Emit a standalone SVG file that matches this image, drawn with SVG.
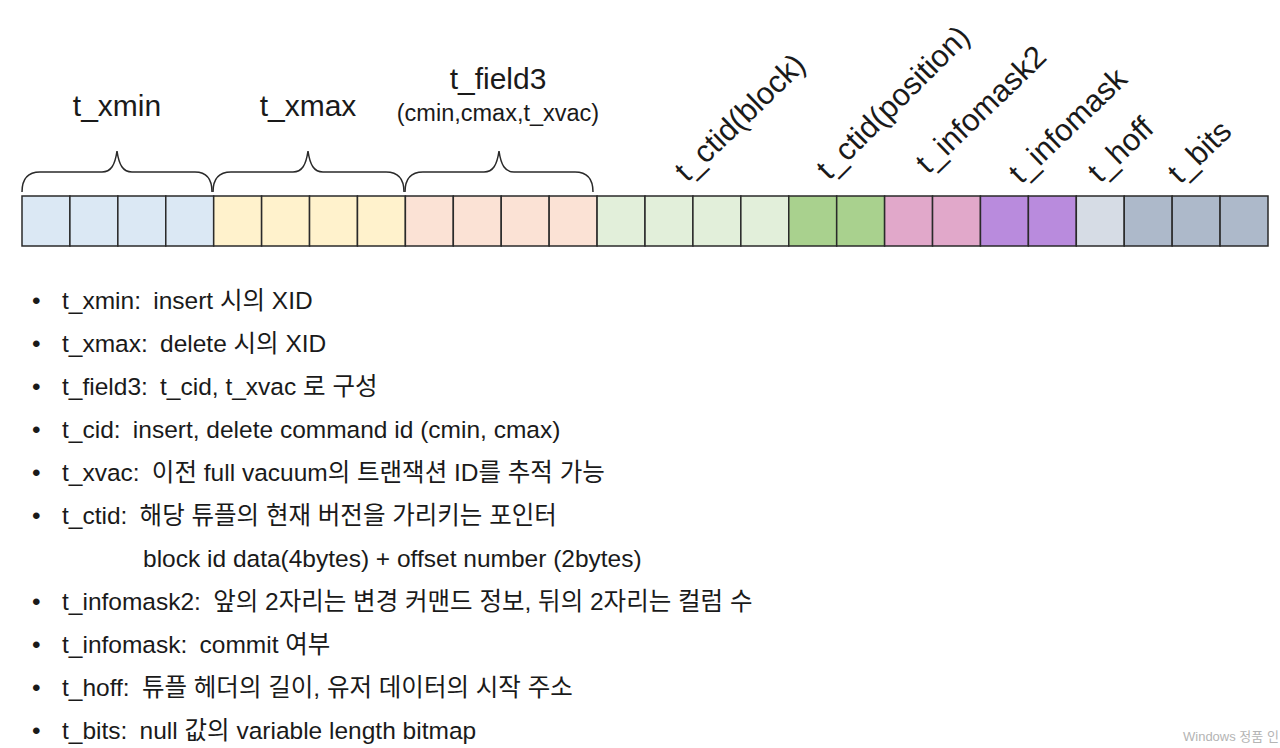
<svg xmlns="http://www.w3.org/2000/svg" width="1280" height="748" viewBox="0 0 1280 748">
<style>
text{font-family:"Liberation Sans","Noto Sans CJK KR",Arial,sans-serif;fill:#1a1a1a}
.lbl{font-size:30px}
.sub{font-size:23.5px}
.rot{font-size:31px}
.note{font-size:24.5px}
.cell{stroke:#2a2a2a;stroke-width:1.5}
.brace{fill:none;stroke:#2a2a2a;stroke-width:1.5}
.c1{fill:#dbe8f4}.c2{fill:#fff2cc}.c3{fill:#fbe2d5}.c4{fill:#e2efda}.c5{fill:#a9d18e}.c6{fill:#e1a8ca}.c7{fill:#b98bdd}.c8{fill:#d6dce5}.c9{fill:#adb9ca}
.wm{font-family:"Liberation Sans","Noto Sans CJK KR",sans-serif;font-size:13px;fill:#b4b4b4}
</style>
<rect width="1280" height="748" fill="#ffffff"/>
<g id="labels">
<text class="lbl" x="117" y="116" text-anchor="middle">t_xmin</text>
<text class="lbl" x="308" y="116" text-anchor="middle">t_xmax</text>
<text class="lbl" x="498" y="89" text-anchor="middle">t_field3</text>
<text class="sub" x="498" y="121" text-anchor="middle">(cmin,cmax,t_xvac)</text>
<text class="rot" transform="translate(687,183) rotate(-44)">t_ctid(block)</text>
<text class="rot" transform="translate(829,181) rotate(-45)">t_ctid(position)</text>
<text class="rot" transform="translate(928,175) rotate(-44)">t_infomask2</text>
<text class="rot" transform="translate(1021,185) rotate(-44)">t_infomask</text>
<text class="rot" transform="translate(1100,184) rotate(-44)">t_hoff</text>
<text class="rot" transform="translate(1180,185) rotate(-44)">t_bits</text>
</g>
<g id="connectors">
<path class="brace" d="M22,192 C22,179 27,172 40,172 L102,172 C111,172 115,165 117,151 C119,165 123,172 132,172 L195,172 C207,172 212,179 212,192"/>
<path class="brace" d="M213,192 C213,179 218,172 231,172 L293,172 C302,172 306,165 308,151 C310,165 314,172 323,172 L386,172 C398,172 404,179 404,192"/>
<path class="brace" d="M405,192 C405,179 410,172 423,172 L484,172 C493,172 497,165 499,151 C501,165 505,172 514,172 L575,172 C587,172 593,179 593,192"/>
</g>
<g id="cells">
<rect class="cell c1" x="22" y="196" width="47.92" height="50"/>
<rect class="cell c1" x="69.92" y="196" width="47.92" height="50"/>
<rect class="cell c1" x="117.85" y="196" width="47.92" height="50"/>
<rect class="cell c1" x="165.77" y="196" width="47.92" height="50"/>
<rect class="cell c2" x="213.69" y="196" width="47.92" height="50"/>
<rect class="cell c2" x="261.62" y="196" width="47.92" height="50"/>
<rect class="cell c2" x="309.54" y="196" width="47.92" height="50"/>
<rect class="cell c2" x="357.46" y="196" width="47.92" height="50"/>
<rect class="cell c3" x="405.38" y="196" width="47.92" height="50"/>
<rect class="cell c3" x="453.31" y="196" width="47.92" height="50"/>
<rect class="cell c3" x="501.23" y="196" width="47.92" height="50"/>
<rect class="cell c3" x="549.15" y="196" width="47.92" height="50"/>
<rect class="cell c4" x="597.08" y="196" width="47.92" height="50"/>
<rect class="cell c4" x="645" y="196" width="47.92" height="50"/>
<rect class="cell c4" x="692.92" y="196" width="47.92" height="50"/>
<rect class="cell c4" x="740.85" y="196" width="47.92" height="50"/>
<rect class="cell c5" x="788.77" y="196" width="47.92" height="50"/>
<rect class="cell c5" x="836.69" y="196" width="47.92" height="50"/>
<rect class="cell c6" x="884.62" y="196" width="47.92" height="50"/>
<rect class="cell c6" x="932.54" y="196" width="47.92" height="50"/>
<rect class="cell c7" x="980.46" y="196" width="47.92" height="50"/>
<rect class="cell c7" x="1028.38" y="196" width="47.92" height="50"/>
<rect class="cell c8" x="1076.31" y="196" width="47.92" height="50"/>
<rect class="cell c9" x="1124.23" y="196" width="47.92" height="50"/>
<rect class="cell c9" x="1172.15" y="196" width="47.92" height="50"/>
<rect class="cell c9" x="1220.08" y="196" width="47.92" height="50"/>
</g>
<g id="notes" class="note">
<text x="32" y="309">•</text><text x="62" y="309">t_xmin:&#8194;insert 시의 XID</text>
<text x="32" y="352">•</text><text x="62" y="352">t_xmax:&#8194;delete 시의 XID</text>
<text x="32" y="395">•</text><text x="62" y="395">t_field3:&#8194;t_cid, t_xvac 로 구성</text>
<text x="32" y="438">•</text><text x="62" y="438">t_cid:&#8194;insert, delete command id (cmin, cmax)</text>
<text x="32" y="481">•</text><text x="62" y="481">t_xvac:&#8194;이전 full vacuum의 트랜잭션 ID를 추적 가능</text>
<text x="32" y="524">•</text><text x="62" y="524">t_ctid:&#8194;해당 튜플의 현재 버전을 가리키는 포인터</text>
<text x="143" y="567">block id data(4bytes) + offset number (2bytes)</text>
<text x="32" y="610">•</text><text x="62" y="610">t_infomask2:&#8194;앞의 2자리는 변경 커맨드 정보, 뒤의 2자리는 컬럼 수</text>
<text x="32" y="653">•</text><text x="62" y="653">t_infomask:&#8194;commit 여부</text>
<text x="32" y="696">•</text><text x="62" y="696">t_hoff:&#8194;튜플 헤더의 길이, 유저 데이터의 시작 주소</text>
<text x="32" y="739">•</text><text x="62" y="739">t_bits:&#8194;null 값의 variable length bitmap</text>
</g>
<text class="wm" x="1183" y="741">Windows 정품 인</text>
</svg>
